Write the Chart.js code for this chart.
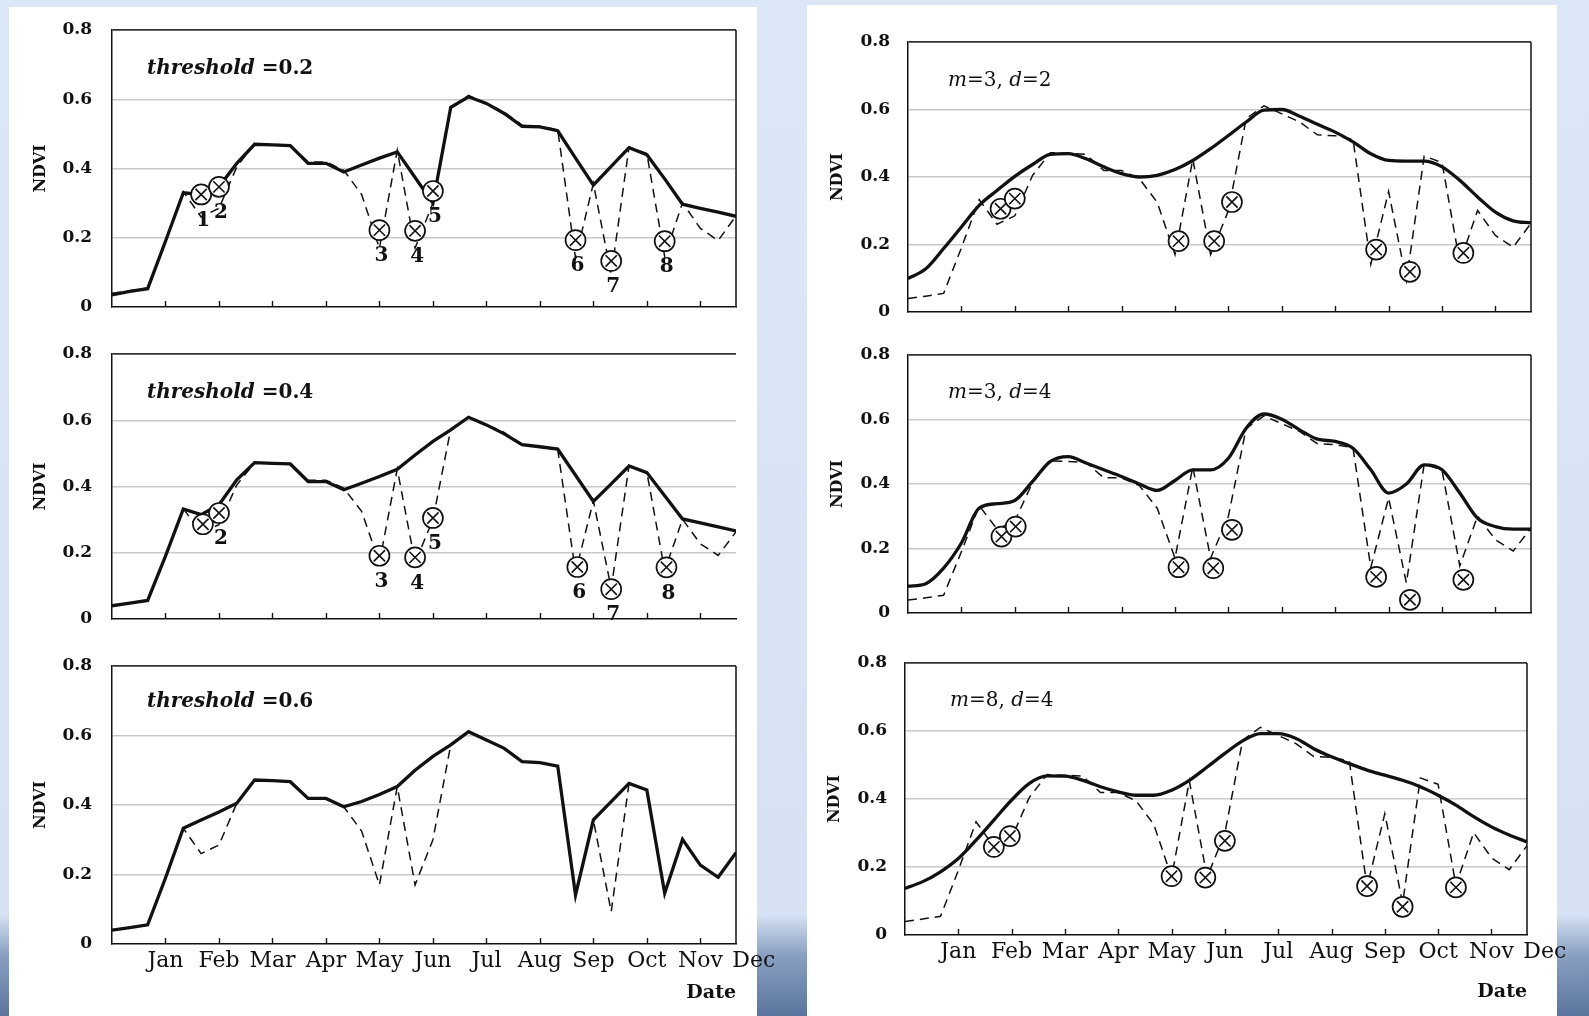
<!DOCTYPE html>
<html><head><meta charset="utf-8">
<script src="https://cdn.jsdelivr.net/npm/chart.js@4.4.1/dist/chart.umd.min.js"></script>
<style>
html,body{margin:0;padding:0;}
body{width:1589px;height:1016px;position:relative;overflow:hidden;
 background:linear-gradient(180deg,#dbe6f6 0%,#d6e2f4 90%,#8aa0c2 94%,#5a749d 100%);}
.sheet{position:absolute;background:#fff;}
canvas{position:absolute;}
</style></head><body>
<div class="sheet" style="left:9px;top:7px;width:748px;height:1009px"></div>
<div class="sheet" style="left:807px;top:5px;width:750px;height:1011px"></div>
<script>
// ---------- data ----------
const MONTHS = ['Jan','Feb','Mar','Apr','May','Jun','Jul','Aug','Sep','Oct','Nov','Dec'];
const MONTH_TICKS = [3,6,9,12,15,18,21,24,27,30,33,36];
const Y_TICKS = [0,0.2,0.4,0.6,0.8];
const Y_TICK_LABELS = ['0','0.2','0.4','0.6','0.8'];
const DEKADS = [0,1,2,3,4,5,6,7,8,9,10,11,12,13,14,15,16,17,18,19,20,21,22,23,24,25,26,27,28,29,30,31,32,33,34,35];

// original NDVI series (dashed)
const RAW = [0.040,0.047,0.055,0.190,0.333,0.260,0.285,0.405,0.472,0.470,0.467,0.419,0.419,0.395,0.325,0.170,0.453,0.170,0.300,0.573,0.611,0.587,0.563,0.525,0.522,0.512,0.141,0.357,0.093,0.462,0.443,0.146,0.301,0.227,0.192,0.263];

// reconstructed series (solid)
const SOLID_TH02 = [0.035,0.045,0.053,0.190,0.330,0.325,0.347,0.415,0.470,0.468,0.466,0.415,0.415,0.390,0.410,0.430,0.448,0.374,0.300,0.577,0.607,0.588,0.559,0.522,0.520,0.509,0.430,0.352,0.406,0.460,0.440,0.370,0.297,0.285,0.274,0.262];
const SOLID_TH04 = [0.040,0.048,0.056,0.190,0.332,0.315,0.345,0.420,0.472,0.470,0.468,0.415,0.415,0.390,0.410,0.430,0.452,0.495,0.536,0.571,0.609,0.586,0.559,0.526,0.520,0.513,0.434,0.355,0.408,0.462,0.442,0.372,0.302,0.290,0.278,0.266];
const SOLID_TH06 = [0.040,0.047,0.055,0.190,0.333,0.357,0.380,0.405,0.472,0.470,0.467,0.419,0.419,0.395,0.410,0.430,0.453,0.500,0.540,0.573,0.611,0.587,0.563,0.525,0.522,0.512,0.141,0.357,0.410,0.462,0.443,0.146,0.301,0.227,0.192,0.263];
const SOLID_M3D2 = [0.099,0.128,0.188,0.252,0.316,0.360,0.402,0.437,0.467,0.469,0.454,0.430,0.410,0.400,0.405,0.422,0.449,0.484,0.523,0.563,0.598,0.600,0.580,0.556,0.533,0.504,0.469,0.449,0.447,0.447,0.430,0.390,0.341,0.296,0.270,0.264];
const SOLID_M3D4 = [0.083,0.091,0.139,0.217,0.325,0.339,0.349,0.408,0.470,0.485,0.465,0.444,0.423,0.400,0.380,0.411,0.444,0.444,0.480,0.573,0.617,0.601,0.568,0.539,0.532,0.511,0.444,0.372,0.400,0.459,0.444,0.372,0.294,0.268,0.260,0.260];
const SOLID_M8D4 = [0.137,0.157,0.186,0.225,0.279,0.338,0.397,0.446,0.468,0.467,0.455,0.436,0.421,0.411,0.411,0.426,0.455,0.494,0.534,0.571,0.592,0.592,0.578,0.548,0.524,0.504,0.485,0.470,0.455,0.436,0.411,0.382,0.348,0.318,0.294,0.274];

// flagged (noise) points, circled-cross markers
const MK_X_TH02 = [5,6,15,17,18,26,28,31];
const MK_Y_TH02 = [0.325,0.347,0.222,0.220,0.335,0.193,0.133,0.190];
const MK_LBL_TH02 = ['1','2','3','4','5','6','7','8'];
const MK_X_TH04 = [5.1,6,15,17,18,26.1,28,31.1];
const MK_Y_TH04 = [0.286,0.320,0.191,0.186,0.305,0.157,0.090,0.156];
const MK_LBL_TH04 = ['','2','3','4','5','6','7','8'];
const MK_X_M3D2 = [5.2,6,15.2,17.2,18.2,26.3,28.2,31.2];
const MK_Y_M3D2 = [0.306,0.336,0.210,0.210,0.326,0.185,0.119,0.175];
const MK_X_M3D4 = [5.25,6.05,15.2,17.15,18.2,26.3,28.2,31.2];
const MK_Y_M3D4 = [0.237,0.268,0.142,0.139,0.258,0.112,0.041,0.103];
const MK_X_M8D4 = [5,5.9,15,16.9,18,26,28,31];
const MK_Y_M8D4 = [0.259,0.291,0.173,0.169,0.277,0.144,0.083,0.140];

const NOTE_TH02 = [['threshold','italic bold'],[' =0.2','bold']];
const NOTE_TH04 = [['threshold','italic bold'],[' =0.4','bold']];
const NOTE_TH06 = [['threshold','italic bold'],[' =0.6','bold']];
const NOTE_M3D2 = [['m','italic'],['=3, ','normal'],['d','italic'],['=2','normal']];
const NOTE_M3D4 = [['m','italic'],['=3, ','normal'],['d','italic'],['=4','normal']];
const NOTE_M8D4 = [['m','italic'],['=8, ','normal'],['d','italic'],['=4','normal']];

const Y_TITLE = 'NDVI';
const X_TITLE = 'Date';

// ---------- layout (positions / sizes) ----------
const PADV = 32;
const LAYOUT = {
  tl:{L:20, pl:112, pr:736, pt:30, pb:307, xh:2, R:20, tpad:11.4, ypad:20, nx:35, ny:39, nsize:20},
  ml:{L:20, pl:112, pr:736, pt:354, pb:619, xh:2, R:20, tpad:11.4, ypad:20, nx:35, ny:39, nsize:20},
  bl:{L:20, pl:112, pr:736, pt:666, pb:944, xh:60, R:50, tpad:11.4, ypad:20, nx:35, ny:36, nsize:20},
  tr:{L:818, pl:908, pr:1531, pt:42, pb:312, xh:2, R:20, tpad:10.4, ypad:18, nx:40, ny:39, nsize:20},
  mr:{L:818, pl:908, pr:1531, pt:355, pb:613, xh:2, R:20, tpad:10.4, ypad:18, nx:40, ny:38, nsize:20},
  br:{L:815, pl:905, pr:1527, pt:663, pb:935, xh:68, R:50, tpad:10.4, ypad:18, nx:45, ny:38, nsize:20}
};

const PANELS = [
  {key:'tl', solid:SOLID_TH02, smooth:false, mx:MK_X_TH02, my:MK_Y_TH02, lbl:MK_LBL_TH02, note:NOTE_TH02, bottom:false, right:true},
  {key:'ml', solid:SOLID_TH04, smooth:false, mx:MK_X_TH04, my:MK_Y_TH04, lbl:MK_LBL_TH04, note:NOTE_TH04, bottom:false, right:false},
  {key:'bl', solid:SOLID_TH06, smooth:false, mx:[], my:[], lbl:[], note:NOTE_TH06, bottom:true, right:true},
  {key:'tr', solid:SOLID_M3D2, smooth:true, mx:MK_X_M3D2, my:MK_Y_M3D2, lbl:[], note:NOTE_M3D2, bottom:false, right:true},
  {key:'mr', solid:SOLID_M3D4, smooth:true, mx:MK_X_M3D4, my:MK_Y_M3D4, lbl:[], note:NOTE_M3D4, bottom:false, right:true},
  {key:'br', solid:SOLID_M8D4, smooth:true, mx:MK_X_M8D4, my:MK_Y_M8D4, lbl:[], note:NOTE_M8D4, bottom:true, right:true}
];

const SERIF = "'DejaVu Serif', 'Liberation Serif', serif";
const INK = '#111';

const decor = {
  id:'decor',
  afterDraw(chart) {
    const o = chart.options.plugins.decor;
    const {ctx, chartArea:a, scales:{x, y}} = chart;
    ctx.save();
    ctx.strokeStyle = INK;
    if (o.right) {
      ctx.lineWidth = 1.5;
      ctx.beginPath(); ctx.moveTo(a.right, a.top); ctx.lineTo(a.right, a.bottom); ctx.stroke();
    }
    ctx.lineWidth = 1.4;
    MONTH_TICKS.forEach(v => {
      if (v >= x.max) return;
      const px = Math.round(x.getPixelForValue(v)) + 0.5;
      ctx.beginPath(); ctx.moveTo(px, a.bottom); ctx.lineTo(px, a.bottom - 6); ctx.stroke();
    });
    ctx.fillStyle = INK;
    ctx.textBaseline = 'middle';
    ctx.textAlign = 'left';
    let cx = a.left + o.nx;
    const cy = a.top + o.ny;
    o.note.forEach(([t, st]) => {
      ctx.font = st + ' ' + o.nsize + 'px ' + SERIF;
      ctx.fillText(t, cx, cy);
      cx += ctx.measureText(t).width;
    });
    ctx.textAlign = 'center';
    ctx.font = 'bold 20px ' + SERIF;
    o.lbl.forEach((t, i) => {
      if (!t) return;
      const px = x.getPixelForValue(o.mx[i]);
      const py = y.getPixelForValue(o.my[i]);
      ctx.fillText(t, px + 2, py + 26);
    });
    ctx.restore();
  }
};

PANELS.forEach(p => {
  const g = LAYOUT[p.key];
  const T = g.pt - PADV;
  const padB = Math.max(PADV - g.xh, 0);
  const cv = document.createElement('canvas');
  const W = (g.pr - g.L) + g.R;
  const H = (g.pb - T) + g.xh + padB;
  cv.width = W; cv.height = H;
  cv.style.left = g.L + 'px'; cv.style.top = T + 'px';
  cv.style.width = W + 'px'; cv.style.height = H + 'px';
  document.body.appendChild(cv);

  const pts = (xs, ys) => xs.map((xv, i) => ({x: xv, y: ys[i]}));
  const solidPts = pts(DEKADS, p.solid);
  const rawPts = pts(DEKADS, RAW);
  const mkPts = pts(p.mx, p.my);

  new Chart(cv, {
    type: 'line',
    data: {
      datasets: [
        {data: mkPts, showLine:false, pointStyle:'crossRot', pointRadius:8, pointBorderWidth:1.6,
         pointBorderColor:INK, pointBackgroundColor:'rgba(0,0,0,0)', order:0},
        {data: mkPts, showLine:false, pointStyle:'circle', pointRadius:10, pointBorderWidth:1.7,
         pointBorderColor:INK, pointBackgroundColor:'#fff', order:1},
        {data: solidPts, borderColor:INK, borderWidth:3.3, pointRadius:0, fill:false,
         cubicInterpolationMode: p.smooth ? 'monotone' : 'default', tension:0, order:2},
        {data: rawPts, borderColor:INK, borderWidth:1.5, borderDash:[9,6], pointRadius:0, fill:false, order:3}
      ]
    },
    options: {
      responsive:false, animation:false, devicePixelRatio:1,
      layout:{padding:{left:0, top:PADV, right:g.R, bottom:padB}},
      plugins:{legend:{display:false}, tooltip:{enabled:false},
        decor:{right:p.right, note:p.note, lbl:p.lbl, mx:p.mx, my:p.my, nx:g.nx, ny:g.ny, nsize:g.nsize}},
      scales:{
        x:{type:'linear', min:0, max:35,
          afterBuildTicks: s => { s.ticks = MONTH_TICKS.map(v => ({value:v})); },
          afterFit: s => { s.height = g.xh; },
          grid:{display:false, drawTicks:false},
          border:{display:true, color:INK, width:1.5},
          ticks:{display:p.bottom, autoSkip:false, maxRotation:0, minRotation:0, padding:4,
            color:INK, font:{family:SERIF, size:22},
            callback: v => MONTHS[MONTH_TICKS.indexOf(v)]},
          title:{display:p.bottom, text:X_TITLE, align:'end', color:INK,
            font:{family:SERIF, size:19, weight:'bold'}, padding:{top:0, bottom:0}}
        },
        y:{type:'linear', min:0, max:0.8,
          afterBuildTicks: s => { s.ticks = Y_TICKS.map(v => ({value:v})); },
          afterFit: s => { s.width = g.pl - g.L; },
          grid:{drawTicks:false,
            color: c => (Math.abs(c.tick.value - 0.8) < 1e-6 ? '#333' : (c.tick.value === 0 ? 'rgba(0,0,0,0)' : '#c9c9c9')),
            lineWidth: c => (Math.abs(c.tick.value - 0.8) < 1e-6 ? 1.8 : 1.4)},
          border:{display:true, color:INK, width:1.5},
          ticks:{padding:g.ypad, color:INK, font:{family:SERIF, size:17, weight:'bold'},
            callback: (v, i) => Y_TICK_LABELS[i]},
          title:{display:true, text:Y_TITLE, color:INK, font:{family:SERIF, size:16, weight:'bold'},
            padding:{top:g.tpad, bottom:0}}
        }
      }
    },
    plugins:[decor]
  });
});
</script></body></html>
